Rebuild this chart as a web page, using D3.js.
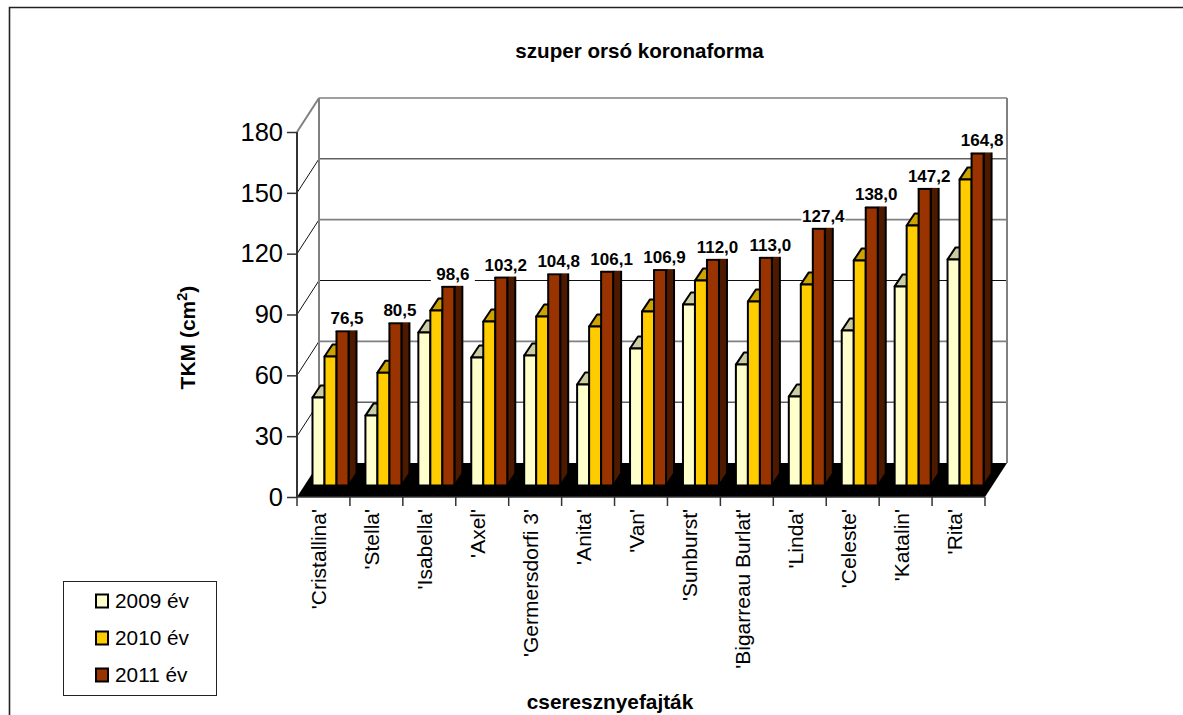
<!DOCTYPE html>
<html><head><meta charset="utf-8">
<script src="https://cdn.jsdelivr.net/npm/d3@7/dist/d3.min.js"></script>
<style>html,body{margin:0;padding:0;background:#fff}svg{display:block}text{font-family:"Liberation Sans",Arial,sans-serif;fill:#000}</style>
</head><body><svg id="c" width="1183" height="715"></svg>
<script>
const categories=["'Cristallina'","'Stella'","'Isabella'","'Axel'","'Germersdorfi 3'","'Anita'","'Van'","'Sunburst'","'Bigarreau Burlat'","'Linda'","'Celeste'","'Katalin'","'Rita'"];
const seriesNames=["2009 év","2010 év","2011 év"];
const values2009=[43.7,34.7,75.9,63.5,64.5,50.1,68,89.8,60,44.2,76.9,98.8,112.2];
const values2010=[64,56,86.8,81.4,83.9,78.9,86.4,101.7,91.3,99.8,111.7,129,151.9];
const values2011=[76.5,80.5,98.6,103.2,104.8,106.1,106.9,112,113,127.4,138,147.2,164.8];
const yTicks=[0,30,60,90,120,150,180];
const labels2011=["76,5","80,5","98,6","103,2","104,8","106,1","106,9","112,0","113,0","127,4","138,0","147,2","164,8"];
const frontColors=["#FFFFCC","#FFCC00","#993300"];
const topColors=["#CCCCA3","#CCA300","#7A2900"];
const sideColors=["#99997A","#997A00","#4D1A00"];

const svg=d3.select("#c");
const series=[values2009,values2010,values2011];
// plot frame
const pL=297,pR=985,pB=497,pT=132,dx=22,dy=-34;
const x=d3.scaleBand().domain(categories).range([pL,pR]);
const y=d3.scaleLinear().domain([0,180]).range([pB,pT]);
const baseY=485.5,depthX=8,depthY=-12;
const yBar=d3.scaleLinear().domain([0,180]).range([baseY,baseY-362.7]);
const inner=d3.scaleBand().domain([0,1,2]).range([15.5,51.5]);

// outer border
svg.append("path").attr("d","M9.5 715V7.5H1183").attr("fill","none").attr("stroke","#222").attr("stroke-width",1.6);

// walls & grid
yTicks.forEach((t,i)=>{
  const yy=y(t),isGray=(i%2===0);
  const col=isGray?"#808080":"#111",w=isGray?1.6:1;
  if(t>0){
    svg.append("line").attr("x1",pL+dx).attr("x2",pR+dx).attr("y1",yy+dy).attr("y2",yy+dy).attr("stroke",col).attr("stroke-width",w);
    svg.append("line").attr("x1",pL).attr("x2",pL+dx).attr("y1",yy).attr("y2",yy+dy).attr("stroke",t===180?"#808080":"#111").attr("stroke-width",t===180?2:1);
  }
});
svg.append("line").attr("x1",pL+dx).attr("x2",pL+dx).attr("y1",pT+dy).attr("y2",pB+dy).attr("stroke","#808080").attr("stroke-width",2);
svg.append("line").attr("x1",pR+dx).attr("x2",pR+dx).attr("y1",pT+dy).attr("y2",pB+dy).attr("stroke","#808080").attr("stroke-width",2);
// floor
svg.append("path").attr("d",`M${pL} ${pB}L${pR} ${pB}L${pR+dx} ${pB+dy}L${pL+dx} ${pB+dy}Z`).attr("fill","#000");

// bars
categories.forEach((c,ci)=>{
  const g=svg.append("g");
  series.forEach((vals,si)=>{
    const x0=x(c)+inner(si),w=inner.bandwidth(),t=yBar(vals[ci]);
    const st={stroke:"#000","stroke-width":2,"stroke-linejoin":"round"};
    const add=(d,fill)=>{const p=g.append("path").attr("d",d).attr("fill",fill);Object.entries(st).forEach(([k,v])=>p.attr(k,v));};
    add(`M${x0+w} ${baseY}L${x0+w+depthX} ${baseY+depthY}L${x0+w+depthX} ${t+depthY}L${x0+w} ${t}Z`,sideColors[si]);
    add(`M${x0} ${t}L${x0+depthX} ${t+depthY}L${x0+w+depthX} ${t+depthY}L${x0+w} ${t}Z`,topColors[si]);
    add(`M${x0} ${baseY}V${t}H${x0+w}V${baseY}Z`,frontColors[si]);
  });
  const t=yBar(values2011[ci]),cx=x(c)+inner(2)+10.5;
  g.append("rect").attr("x",cx-22).attr("y",t-20).attr("width",44).attr("height",19).attr("fill","#fff");
  g.append("text").attr("x",cx).attr("y",t-7).attr("text-anchor","middle").attr("font-size",17).attr("font-weight","bold").text(labels2011[ci]);
});

// y axis
const yAxis=svg.append("g").attr("transform",`translate(${pL},0)`).call(d3.axisLeft(y).tickValues(yTicks).tickSize(10).tickPadding(4).tickFormat(d3.format("d")));
yAxis.attr("font-family",null);
yAxis.selectAll("text").attr("font-size",25.5);
yAxis.selectAll("line").attr("stroke","#333").attr("stroke-width",1.5);
yAxis.select(".domain").attr("stroke","#333").attr("stroke-width",2).attr("d",`M0 ${pT}V${pB}`);

// x axis
const xAxis=svg.append("g").attr("transform",`translate(0,${pB})`).call(d3.axisBottom(x).tickSize(0).tickPadding(0));
xAxis.attr("font-family",null);
xAxis.select(".domain").attr("stroke","#333").attr("stroke-width",1.5).attr("d",`M${pL} 0H${pR}`);
xAxis.selectAll(".tick text").attr("font-size",21).attr("text-anchor","end").attr("dy",null)
  .attr("transform","translate(-3,12) rotate(-90)").attr("x",0).attr("y",6);
categories.concat([null]).forEach((c,i)=>{
  const xx=c?x(c):pR;
  xAxis.append("line").attr("x1",xx).attr("x2",xx).attr("y1",0).attr("y2",9).attr("stroke","#333").attr("stroke-width",1.5);
});

// titles
svg.append("text").attr("x",639.5).attr("y",58).attr("text-anchor","middle").attr("font-size",20.6).attr("font-weight","bold").text("szuper orsó koronaforma");
svg.append("text").attr("x",610).attr("y",709).attr("text-anchor","middle").attr("font-size",20.8).attr("font-weight","bold").text("cseresznyefajták");
const yt=svg.append("text").attr("transform","translate(195,337.5) rotate(-90)").attr("text-anchor","middle").attr("font-size",21).attr("font-weight","bold");
yt.append("tspan").text("TKM (cm");
yt.append("tspan").attr("font-size",14.5).attr("dy",-8).text("2");
yt.append("tspan").attr("dy",8).text(")");

// legend
svg.append("rect").attr("x",63.5).attr("y",581.5).attr("width",153).attr("height",114).attr("fill","#fff").attr("stroke","#222").attr("stroke-width",1);
const ly=d3.scalePoint().domain(seriesNames).range([601,675]);
seriesNames.forEach((n,i)=>{
  svg.append("rect").attr("x",96).attr("y",ly(n)-6.5).attr("width",12).attr("height",13).attr("fill",frontColors[i]).attr("stroke","#000").attr("stroke-width",2);
  svg.append("text").attr("x",115).attr("y",ly(n)+7).attr("font-size",20.8).text(n);
});
</script></body></html>
